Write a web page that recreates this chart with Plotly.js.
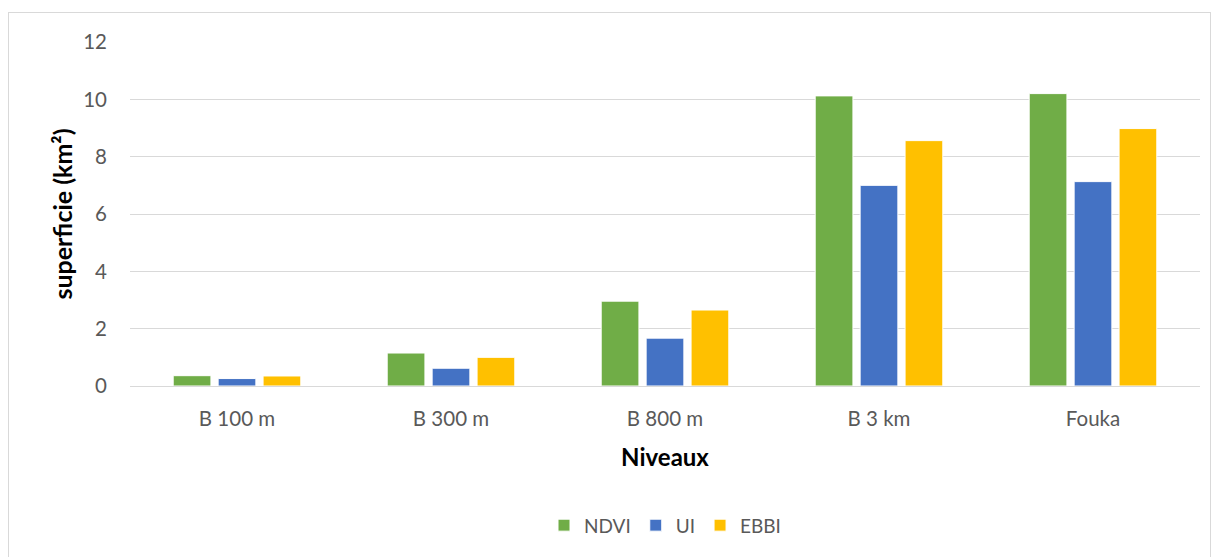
<!DOCTYPE html>
<html>
<head>
<meta charset="utf-8">
<script src="https://cdn.plot.ly/plotly-3.0.1.min.js"></script>
<style>
html,body{margin:0;padding:0;background:#fff;}
#chart{position:absolute;left:0;top:0;width:1217px;height:557px;}
#frame{position:absolute;left:8px;top:12px;width:1201px;height:560px;border:1px solid #d9d9d9;pointer-events:none;}
</style>
</head>
<body>
<div id="chart"></div>
<div id="frame"></div>
<script>
const categories = ["B 100 m", "B 300 m", "B 800 m", "B 3 km", "Fouka"];
const ndvi = [0.36, 1.15, 2.96, 10.12, 10.2];
const ui = [0.26, 0.62, 1.67, 7.0, 7.13];
const ebbi = [0.35, 1.0, 2.65, 8.56, 8.98];
const seriesNames = ["NDVI", "UI", "EBBI"];
const colors = ["#70AD47", "#4472C4", "#FFC000"];
const yTicks = [0, 2, 4, 6, 8, 10, 12];

const font = "Lato, Open Sans, sans-serif";
const data = [ndvi, ui, ebbi].map((vals, i) => ({
  type: "bar",
  name: seriesNames[i],
  x: categories,
  y: vals,
  marker: {color: colors[i], line: {color: "#ffffff", width: 1}},
  hoverinfo: "x+y+name"
}));

const layout = {
  width: 1217, height: 557,
  margin: {l: 130, r: 17, t: 42, b: 171},
  paper_bgcolor: "rgba(0,0,0,0)",
  plot_bgcolor: "#ffffff",
  barmode: "group",
  bargap: 0.37,
  bargroupgap: 0.16,
  showlegend: true,
  legend: {
    orientation: "h", x: 0.5, xanchor: "center", y: -0.405, yanchor: "middle",
    font: {family: font, size: 19, color: "#595959"},
    itemwidth: 30, traceorder: "normal", tracegroupgap: 0
  },
  xaxis: {
    type: "category",
    showgrid: false,
    showline: false,
    ticks: "",
    ticklabelstandoff: 18,
    tickfont: {family: font, size: 20.5, color: "#595959"},
    title: {text: "Niveaux", font: {family: font, size: 24, color: "#000000", weight: "bold"}, standoff: 20}
  },
  yaxis: {
    range: [0, 12],
    tickvals: yTicks,
    ticktext: yTicks.map(String),
    showgrid: true,
    gridcolor: "#d9d9d9",
    gridwidth: 1,
    zeroline: true,
    zerolinecolor: "#d9d9d9",
    zerolinewidth: 1,
    showline: false,
    ticks: "",
    ticklen: 0,
    ticklabelstandoff: 22,
    tickfont: {family: font, size: 20.5, color: "#595959"},
    title: {text: "superficie (km²)", font: {family: font, size: 25, color: "#000000", weight: "bold"}, standoff: 3}
  }
};

Plotly.newPlot("chart", data, layout, {displayModeBar: false, staticPlot: true});
</script>
</body>
</html>
